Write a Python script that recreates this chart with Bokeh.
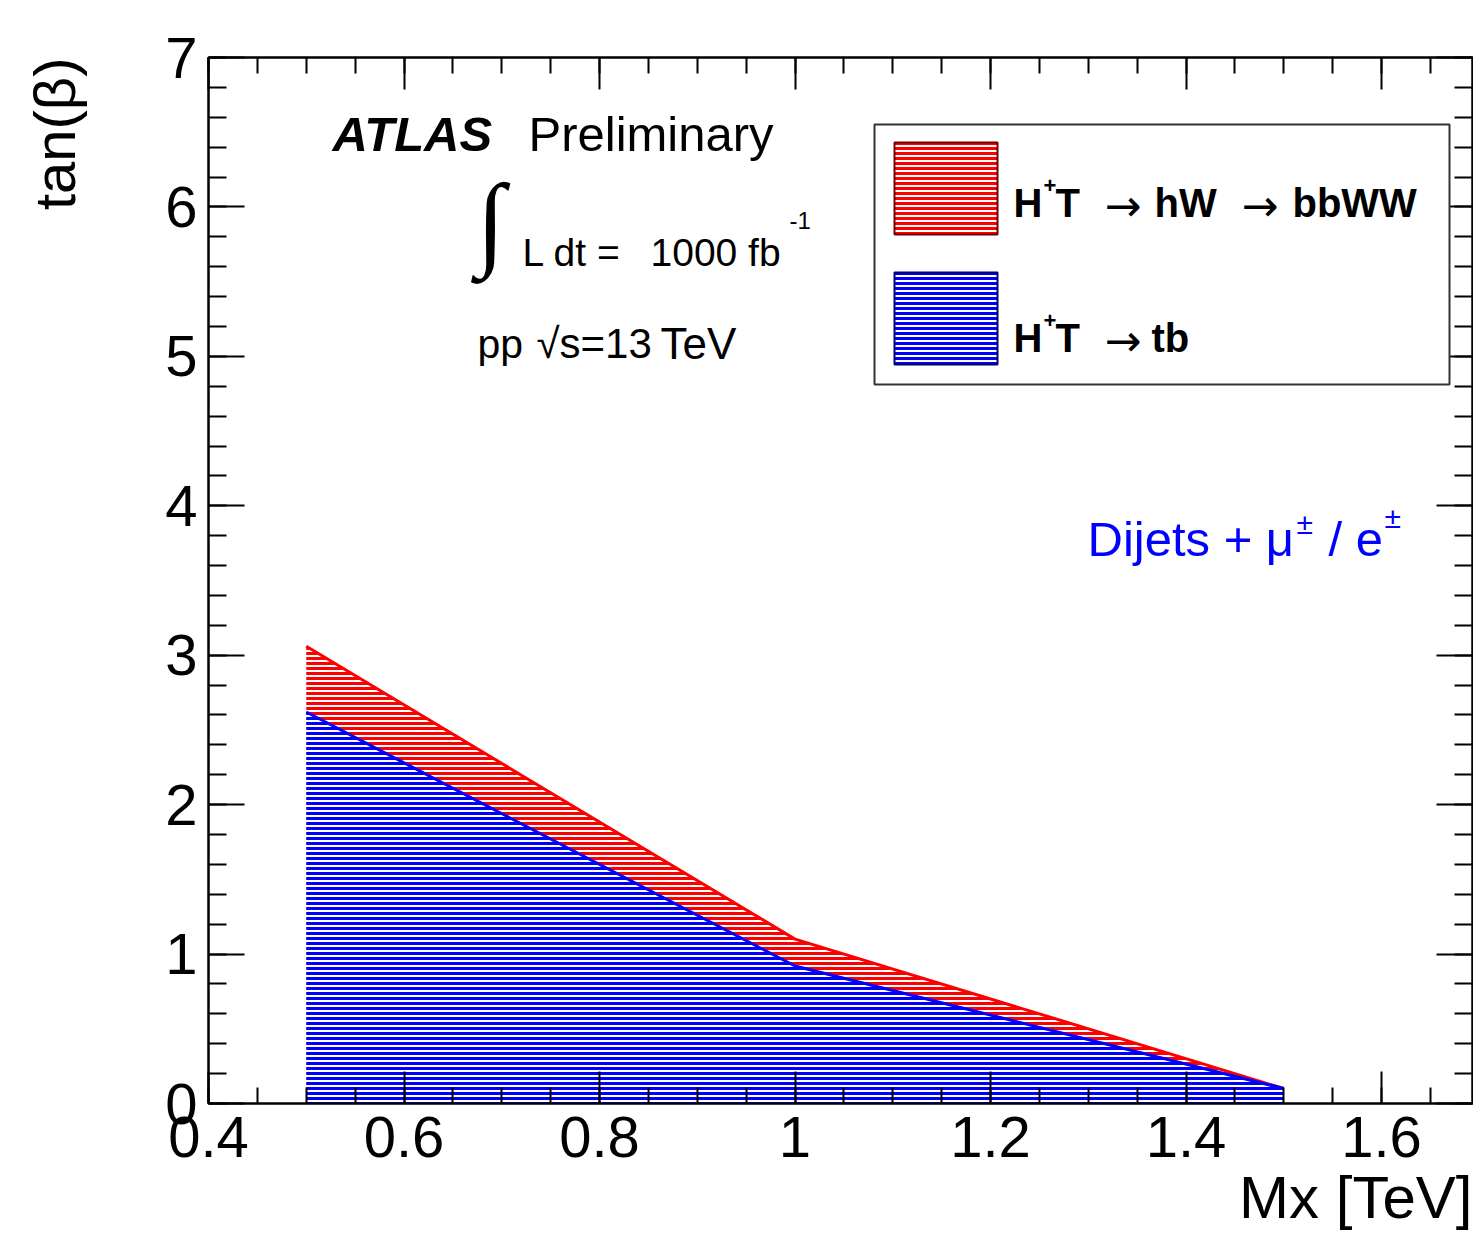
import numpy as np
from bokeh.plotting import figure
from bokeh.models import (Range1d, LinearAxis, FixedTicker, PrintfTickFormatter,
                          CustomJSTickFormatter, Label, BoxAnnotation, Title)
from bokeh.embed import file_html
from bokeh.resources import INLINE

# ---------------- data ----------------
mass_tev = [0.5, 1.0, 1.5]                 # Mx [TeV]
tanb_hw_bbww = [3.06, 1.10, 0.10]         # H+T -> hW -> bbWW
tanb_tb = [2.62, 0.92, 0.10]              # H+T -> tb
x_major_ticks = [0.4, 0.6, 0.8, 1.0, 1.2, 1.4, 1.6]
y_major_ticks = [0, 1, 2, 3, 4, 5, 6, 7]

# ---------------- layout ----------------
W, H = 1473, 1235
FL, FT, FR, FB = 208, 57, 1, 132
XMIN = 0.4
YMIN, YMAX = 0.0, 7.0
PX_PER_X = 977.5
XMAX = XMIN + (W - FL - FR) / PX_PER_X
FRAME_H = H - FT - FB
FONT = "Liberation Sans"


def fx(px):  # picture pixel -> data x
    return XMIN + (px - FL) / PX_PER_X


def fy(py):  # picture pixel -> data y
    return YMAX - (py - FT) * (YMAX - YMIN) / FRAME_H


p = figure(width=W, height=H, x_range=Range1d(XMIN, XMAX), y_range=Range1d(YMIN, YMAX),
           output_backend="svg", toolbar_location=None,
           min_border_left=FL, min_border_right=FR, min_border_top=FT, min_border_bottom=FB,
           background_fill_color="white", border_fill_color="white",
           outline_line_color="black", outline_line_width=2)
p.grid.visible = False

x_minor = [round(v, 3) for v in np.arange(0.4, 1.70, 0.05)]
y_minor = [round(v, 3) for v in np.arange(0.0, 7.01, 0.2)]
xticker = FixedTicker(ticks=x_major_ticks, minor_ticks=x_minor)
yticker = FixedTicker(ticks=y_major_ticks, minor_ticks=y_minor)


def style_axis(ax, tick_in, minor_in):
    ax.axis_line_color = "black"
    ax.axis_line_width = 2
    ax.major_tick_in = tick_in
    ax.major_tick_out = 0
    ax.minor_tick_in = minor_in
    ax.minor_tick_out = 0
    ax.major_tick_line_width = 2
    ax.minor_tick_line_width = 2
    ax.major_tick_line_color = "black"
    ax.minor_tick_line_color = "black"


xa = p.xaxis[0]
xa.ticker = xticker
xa.formatter = PrintfTickFormatter(format="%g")
style_axis(xa, 32, 16)
xa.major_label_text_font = FONT
xa.major_label_text_font_size = "58px"
xa.major_label_text_color = "black"
xa.major_label_standoff = 13

ya = p.yaxis[0]
ya.ticker = yticker
ya.formatter = PrintfTickFormatter(format="%g")
style_axis(ya, 36, 18)
ya.major_label_text_font = FONT
ya.major_label_text_font_size = "58px"
ya.major_label_text_color = "black"
ya.major_label_standoff = 11

blank = CustomJSTickFormatter(code="return ''")
top = LinearAxis(ticker=xticker, formatter=blank, major_label_text_font_size="0px",
                 major_label_standoff=0)
style_axis(top, 32, 16)
p.add_layout(top, "above")
right = LinearAxis(ticker=yticker, formatter=blank, major_label_text_font_size="0px",
                   major_label_standoff=0)
style_axis(right, 36, 18)
p.add_layout(right, "right")

# axis titles (ROOT style: aligned to the axis ends)
p.add_layout(Title(text="Mx [TeV]", align="right", text_font=FONT, text_font_size="60px",
                   text_font_style="normal", text_color="black", standoff=5, offset=0),
             "below")
# blank spacer between the y tick labels and the y title
p.add_layout(Title(text=" ", text_font_size="2px", standoff=72), "left")
p.add_layout(Title(text="tan(β)", align="right", text_font=FONT, text_font_size="58px",
                   text_font_style="normal", text_color="black", standoff=0, offset=0),
             "left")

# ---------------- excluded regions ----------------
p.varea(x=mass_tev, y1=0, y2=tanb_hw_bbww, fill_color="white", fill_alpha=1.0,
        hatch_pattern="horizontal_line", hatch_color="#ff0000", hatch_scale=5, hatch_weight=3)
p.line(mass_tev, tanb_hw_bbww, line_color="#ff0000", line_width=3)
p.varea(x=mass_tev, y1=0, y2=tanb_tb, fill_color="white", fill_alpha=1.0,
        hatch_pattern="horizontal_line", hatch_color="#0000ff", hatch_scale=5, hatch_weight=3)
p.line(mass_tev, tanb_tb, line_color="#0000ff", line_width=3)


def lab(text, px, py, size, color="black", style="normal", align="left",
        baseline="alphabetic", font=FONT):
    p.add_layout(Label(x=fx(px), y=fy(py), text=text, text_font=font,
                       text_font_size=f"{size}px", text_color=color, text_font_style=style,
                       text_align=align, text_baseline=baseline))


# ---------------- ATLAS texts ----------------
lab("ATLAS", 332, 133, 49, style="bold italic")
lab("Preliminary", 528, 133, 49)
lab("∫", 476, 220, 104, font="Liberation Serif")
lab("L dt =", 522, 252, 39)
lab("1000 fb", 650, 252, 39)
lab("-1", 789, 220, 24)
lab("pp", 477, 343, 41)
lab("√s=13", 536, 343, 42)
lab("TeV", 660, 343, 44)

# ---------------- channel label ----------------
lab("Dijets + μ", 1087, 538, 49, color="#0000ff")
lab("±", 1296, 523, 30, color="#0000ff")
lab("/ e", 1328, 538, 49, color="#0000ff")
lab("±", 1384, 517, 30, color="#0000ff")

# ---------------- legend ----------------
p.add_layout(BoxAnnotation(left=fx(874), right=fx(1449), top=fy(124), bottom=fy(384),
                           fill_color="white", fill_alpha=1.0, line_color="#333333",
                           line_alpha=1.0, line_width=2))
p.add_layout(BoxAnnotation(left=fx(894), right=fx(997), top=fy(142), bottom=fy(234),
                           fill_color="white", fill_alpha=1.0, hatch_pattern="horizontal_line",
                           hatch_color="#ff0000", hatch_scale=5, hatch_weight=3,
                           line_color="#700000", line_alpha=1.0, line_width=2))
p.add_layout(BoxAnnotation(left=fx(894), right=fx(997), top=fy(272), bottom=fy(364),
                           fill_color="white", fill_alpha=1.0, hatch_pattern="horizontal_line",
                           hatch_color="#0000ff", hatch_scale=5, hatch_weight=3,
                           line_color="#000070", line_alpha=1.0, line_width=2))

for base, tail in ((202, [("→", 1104, "arrow"), ("hW", 1154, "bold"),
                          ("→", 1241, "arrow"), ("bbWW", 1292, "bold")]),
                   (337, [("→", 1104, "arrow"), ("tb", 1151, "bold")])):
    lab("H", 1013, base, 40, style="bold")
    lab("+", 1043, base - 17, 22, style="bold")
    lab("T", 1055, base, 40, style="bold")
    for t, x, st in tail:
        if st == "arrow":
            lab(t, x, base + 3, 44, font="DejaVu Sans")
        else:
            lab(t, x, base, 40, style=st)

open("out.html", "w").write(file_html(p, INLINE))
